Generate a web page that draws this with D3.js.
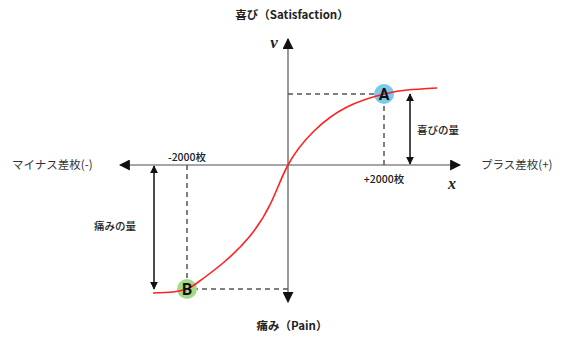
<!DOCTYPE html>
<html>
<head>
	<meta charset="utf-8">
	<title>プロスペクト理論 価値関数</title>
	<script src="https://d3js.org/d3.v7.min.js"></script>
	<style>
		body { margin: 0; background: #fff; }
		text { font-family: "Noto Sans CJK JP", "Noto Sans", sans-serif; fill: #222; }
	</style>
</head>
<body>
	<div class="chart"></div>

	<script type="text/javascript">

		// 差枚 (x) と 価値 (v) の曲線上の点
		var curveX = [-2673, -2277, -2000, -1802, -1287, -752, -340, 0, 521, 1229, 2000, 2479, 3104]
		var curveV = [-128, -127, -124, -118, -98, -71, -38, 0, 33, 58, 71, 75, 77]

		// 注目点
		var pointNames = ['A', 'B']
		var pointX = [2000, -2000]
		var pointV = [71, -124]
		var pointColors = ['#7ec8ea', '#a6d78b']

		var tickLabels = ['-2000枚', '+2000枚']

		var width = 570
		var height = 341

		var svg = d3
			.select('.chart')
			.append('svg')
			.attr('width', width)
			.attr('height', height)

		// 比例尺 (左右で少し間隔が違うので折れ線スケール)
		var xScale = d3.scaleLinear().domain([-2000, 0, 2000]).range([187, 288, 384])
		var vScale = d3.scaleLinear().domain([-125, 125]).range([290, 40])

		var x0 = xScale(0)
		var y0 = vScale(0)

		// 矢印マーカー
		var defs = svg.append('defs')
		function marker(id, color, size) {
			defs.append('marker')
				.attr('id', id)
				.attr('viewBox', '0 0 10 10')
				.attr('refX', 9)
				.attr('refY', 5)
				.attr('markerUnits', 'userSpaceOnUse')
				.attr('markerWidth', size)
				.attr('markerHeight', size)
				.attr('orient', 'auto-start-reverse')
				.append('path')
				.attr('d', 'M0,0 L10,5 L0,10 Z')
				.attr('fill', color)
		}
		marker('axisArrow', '#111', 11)
		marker('smallArrow', '#111', 8)

		// 軸
		svg.append('line')
			.attr('x1', 460).attr('y1', y0)
			.attr('x2', 120).attr('y2', y0)
			.attr('stroke', '#888')
			.attr('stroke-width', 1.3)
			.attr('marker-start', 'url(#axisArrow)')
			.attr('marker-end', 'url(#axisArrow)')

		svg.append('line')
			.attr('x1', x0).attr('y1', 302)
			.attr('x2', x0).attr('y2', 39)
			.attr('stroke', '#555')
			.attr('stroke-width', 1.2)
			.attr('marker-start', 'url(#axisArrow)')
			.attr('marker-end', 'url(#axisArrow)')

		// 破線
		var guides = svg.append('g')
			.attr('stroke', '#555')
			.attr('stroke-width', 1.5)
			.attr('stroke-dasharray', '5,4')
		pointNames.forEach(function (n, i) {
			guides.append('line')
				.attr('x1', x0).attr('y1', vScale(pointV[i]))
				.attr('x2', xScale(pointX[i])).attr('y2', vScale(pointV[i]))
			guides.append('line')
				.attr('x1', xScale(pointX[i])).attr('y1', y0)
				.attr('x2', xScale(pointX[i])).attr('y2', vScale(pointV[i]))
		})

		// 量の矢印
		svg.append('line')
			.attr('x1', 410).attr('y1', y0 - 1)
			.attr('x2', 410).attr('y2', vScale(pointV[0]))
			.attr('stroke', '#111').attr('stroke-width', 1.5)
			.attr('marker-start', 'url(#smallArrow)')
			.attr('marker-end', 'url(#smallArrow)')
		svg.append('text')
			.attr('x', 438).attr('y', 134)
			.attr('text-anchor', 'middle')
			.style('font-size', '10.5px')
			.style('font-weight', '500')
			.text('喜びの量')

		svg.append('line')
			.attr('x1', 154).attr('y1', y0 + 1)
			.attr('x2', 154).attr('y2', vScale(pointV[1]))
			.attr('stroke', '#111').attr('stroke-width', 1.5)
			.attr('marker-start', 'url(#smallArrow)')
			.attr('marker-end', 'url(#smallArrow)')
		svg.append('text')
			.attr('x', 115).attr('y', 230)
			.attr('text-anchor', 'middle')
			.style('font-size', '10.5px')
			.style('font-weight', '500')
			.text('痛みの量')

		// 点の円
		svg.selectAll('circle.pt')
			.data(pointNames)
			.enter()
			.append('circle')
			.attr('class', 'pt')
			.attr('cx', (d, i) => xScale(pointX[i]))
			.attr('cy', (d, i) => vScale(pointV[i]))
			.attr('r', 10)
			.attr('fill', (d, i) => pointColors[i])

		// 曲線
		var line = d3.line()
			.x(d => xScale(d[0]))
			.y(d => vScale(d[1]))
			.curve(d3.curveNatural)

		svg.append('path')
			.datum(curveX.map((x, i) => [x, curveV[i]]))
			.attr('d', line)
			.attr('fill', 'none')
			.attr('stroke', '#ff2020')
			.attr('stroke-width', 1.6)

		svg.selectAll('text.pt')
			.data(pointNames)
			.enter()
			.append('text')
			.attr('class', 'pt')
			.attr('x', (d, i) => xScale(pointX[i]))
			.attr('y', (d, i) => vScale(pointV[i]) + 6)
			.attr('text-anchor', 'middle')
			.style('font-family', 'Roboto, sans-serif')
			.style('font-size', '16px')
			.style('font-weight', 'bold')
			.style('fill', '#111')
			.text(d => d)

		// 目盛りラベル
		svg.append('text')
			.attr('x', xScale(-2000)).attr('y', 161)
			.attr('text-anchor', 'middle')
			.style('font-size', '10.5px')
			.style('font-weight', '500')
			.text(tickLabels[0])
		svg.append('text')
			.attr('x', xScale(2000)).attr('y', 183)
			.attr('text-anchor', 'middle')
			.style('font-size', '10.5px')
			.style('font-weight', '500')
			.text(tickLabels[1])

		// 軸名
		svg.append('text')
			.attr('x', 452).attr('y', 189)
			.attr('text-anchor', 'middle')
			.style('font-family', '"Liberation Serif", serif')
			.style('font-style', 'italic')
			.style('font-weight', 'bold')
			.style('font-size', '16px')
			.text('x')
		svg.append('text')
			.attr('x', 274).attr('y', 48)
			.attr('text-anchor', 'middle')
			.style('font-family', '"Liberation Serif", serif')
			.style('font-style', 'italic')
			.style('font-weight', 'bold')
			.style('font-size', '17px')
			.text('v')

		svg.append('text')
			.attr('x', 292).attr('y', 19)
			.attr('text-anchor', 'middle')
			.style('font-size', '11.5px')
			.style('font-weight', 'bold')
			.text('喜び（Satisfaction）')
		svg.append('text')
			.attr('x', 292).attr('y', 330)
			.attr('text-anchor', 'middle')
			.style('font-size', '11.5px')
			.style('font-weight', 'bold')
			.text('痛み（Pain）')

		svg.append('text')
			.attr('x', 12).attr('y', 169)
			.style('font-size', '11.5px')
			.style('fill', '#333')
			.text('マイナス差枚(-)')
		svg.append('text')
			.attr('x', 481).attr('y', 169)
			.style('font-size', '11.5px')
			.style('fill', '#333')
			.text('プラス差枚(+)')

	</script>
</body>
</html>
